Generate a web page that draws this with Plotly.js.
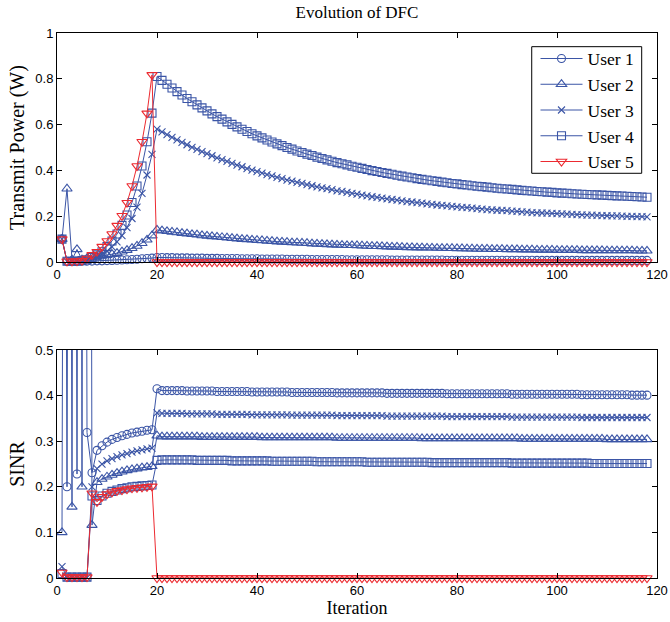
<!DOCTYPE html>
<html>
<head>
<meta charset="utf-8">
<script src="https://cdn.plot.ly/plotly-3.0.1.min.js"></script>
<style>html,body{margin:0;padding:0;background:#fff;}#chart{width:670px;height:622px;}</style>
</head>
<body>
<div id="chart"></div>
<script>
const iterations = Array.from({length: 118}, (_, i) => i + 1);
const userNames = ["User 1", "User 2", "User 3", "User 4", "User 5"];

// Transmit power (W), iterations 1..118
const power1 = [
  0.1, 0.003, 0.004, 0.003, 0.004, 0.004, 0.004, 0.005, 0.005, 0.006,
  0.007, 0.008, 0.009, 0.010, 0.011, 0.012, 0.014, 0.015, 0.017,
  0.020, 0.020, 0.019, 0.019, 0.018, 0.018, 0.018, 0.017, 0.017, 0.017,
  0.016, 0.016, 0.016, 0.015, 0.015, 0.015, 0.015, 0.014, 0.014, 0.014,
  0.014, 0.013, 0.013, 0.013, 0.013, 0.013, 0.012, 0.012, 0.012, 0.012,
  0.012, 0.011, 0.011, 0.011, 0.011, 0.011, 0.011, 0.011, 0.010, 0.010,
  0.010, 0.010, 0.010, 0.010, 0.010, 0.010, 0.010, 0.009, 0.009, 0.009,
  0.009, 0.009, 0.009, 0.009, 0.009, 0.009, 0.009, 0.009, 0.008, 0.008,
  0.008, 0.008, 0.008, 0.008, 0.008, 0.008, 0.008, 0.008, 0.008, 0.008,
  0.008, 0.008, 0.008, 0.008, 0.008, 0.008, 0.007, 0.007, 0.007, 0.007,
  0.007, 0.007, 0.007, 0.007, 0.007, 0.007, 0.007, 0.007, 0.007, 0.007,
  0.007, 0.007, 0.007, 0.007, 0.007, 0.007, 0.007, 0.007, 0.007
];
const power2 = [
  0.1, 0.32, 0.01, 0.055, 0.01, 0.016, 0.02, 0.023, 0.026, 0.03,
  0.034, 0.039, 0.045, 0.052, 0.06, 0.07, 0.082, 0.097, 0.115,
  0.140, 0.137, 0.134, 0.131, 0.129, 0.126, 0.124, 0.121, 0.119, 0.116,
  0.114, 0.112, 0.110, 0.108, 0.106, 0.104, 0.102, 0.100, 0.099, 0.097,
  0.095, 0.094, 0.092, 0.091, 0.089, 0.088, 0.087, 0.085, 0.084, 0.083,
  0.082, 0.080, 0.079, 0.078, 0.077, 0.076, 0.075, 0.074, 0.073, 0.073,
  0.072, 0.071, 0.070, 0.069, 0.069, 0.068, 0.067, 0.066, 0.066, 0.065,
  0.064, 0.064, 0.063, 0.063, 0.062, 0.062, 0.061, 0.061, 0.060, 0.060,
  0.059, 0.059, 0.058, 0.058, 0.057, 0.057, 0.057, 0.056, 0.056, 0.056,
  0.055, 0.055, 0.055, 0.054, 0.054, 0.054, 0.053, 0.053, 0.053, 0.053,
  0.052, 0.052, 0.052, 0.052, 0.052, 0.051, 0.051, 0.051, 0.051, 0.051,
  0.050, 0.050, 0.050, 0.050, 0.050, 0.050, 0.049, 0.049, 0.049
];
const power3 = [
  0.1, 0.003, 0.003, 0.004, 0.005, 0.008, 0.014, 0.023, 0.034, 0.048,
  0.066, 0.088, 0.115, 0.15, 0.19, 0.24, 0.30, 0.38, 0.47,
  0.580, 0.568, 0.556, 0.544, 0.533, 0.522, 0.512, 0.501, 0.492, 0.482,
  0.473, 0.464, 0.455, 0.447, 0.439, 0.431, 0.423, 0.416, 0.408, 0.401,
  0.395, 0.388, 0.382, 0.376, 0.370, 0.364, 0.358, 0.353, 0.348, 0.343,
  0.338, 0.333, 0.328, 0.324, 0.320, 0.316, 0.311, 0.308, 0.304, 0.300,
  0.296, 0.292, 0.289, 0.285, 0.282, 0.279, 0.276, 0.273, 0.270, 0.267,
  0.264, 0.262, 0.259, 0.257, 0.254, 0.252, 0.249, 0.247, 0.245, 0.243,
  0.241, 0.239, 0.237, 0.235, 0.233, 0.231, 0.229, 0.228, 0.226, 0.225,
  0.224, 0.222, 0.221, 0.219, 0.218, 0.216, 0.215, 0.214, 0.213, 0.212,
  0.211, 0.210, 0.209, 0.208, 0.207, 0.206, 0.205, 0.205, 0.204, 0.203,
  0.202, 0.201, 0.201, 0.200, 0.199, 0.199, 0.198, 0.198, 0.197
];
const power4 = [
  0.1, 0.003, 0.003, 0.004, 0.006, 0.01, 0.02, 0.031, 0.045, 0.067,
  0.092, 0.122, 0.16, 0.205, 0.26, 0.332, 0.419, 0.525, 0.65,
  0.810, 0.793, 0.776, 0.760, 0.744, 0.729, 0.714, 0.700, 0.686, 0.673,
  0.660, 0.647, 0.635, 0.624, 0.612, 0.601, 0.590, 0.580, 0.570, 0.560,
  0.551, 0.542, 0.533, 0.524, 0.516, 0.508, 0.500, 0.493, 0.485, 0.478,
  0.471, 0.465, 0.458, 0.452, 0.446, 0.440, 0.434, 0.429, 0.424, 0.418,
  0.414, 0.409, 0.404, 0.399, 0.395, 0.391, 0.387, 0.383, 0.379, 0.375,
  0.371, 0.368, 0.364, 0.361, 0.358, 0.355, 0.352, 0.349, 0.346, 0.343,
  0.341, 0.338, 0.336, 0.333, 0.331, 0.329, 0.327, 0.324, 0.322, 0.320,
  0.319, 0.317, 0.315, 0.313, 0.311, 0.310, 0.308, 0.307, 0.305, 0.304,
  0.302, 0.301, 0.300, 0.298, 0.297, 0.296, 0.295, 0.294, 0.293, 0.292,
  0.291, 0.290, 0.289, 0.288, 0.287, 0.286, 0.285, 0.284, 0.283
];
const power5 = [
  0.1, 0.003, 0.003, 0.004, 0.006, 0.015, 0.031, 0.045, 0.067, 0.092,
  0.122, 0.159, 0.202, 0.259, 0.332, 0.419, 0.525, 0.649, 0.817,
  0, 0, 0, 0, 0, 0, 0, 0, 0, 0,
  0, 0, 0, 0, 0, 0, 0, 0, 0, 0,
  0, 0, 0, 0, 0, 0, 0, 0, 0, 0,
  0, 0, 0, 0, 0, 0, 0, 0, 0, 0,
  0, 0, 0, 0, 0, 0, 0, 0, 0, 0,
  0, 0, 0, 0, 0, 0, 0, 0, 0, 0,
  0, 0, 0, 0, 0, 0, 0, 0, 0, 0,
  0, 0, 0, 0, 0, 0, 0, 0, 0, 0,
  0, 0, 0, 0, 0, 0, 0, 0, 0, 0,
  0, 0, 0, 0, 0, 0, 0, 0, 0
];

// SINR, iterations 1..118
const sinr1 = [
  3.5, 0.2, 4.2, 0.228, 5.0, 0.319, 0.231, 0.28, 0.29, 0.298,
  0.304, 0.308, 0.312, 0.315, 0.318, 0.32, 0.322, 0.324, 0.325,
  0.415, 0.411, 0.411, 0.411, 0.411, 0.411, 0.410, 0.410, 0.410, 0.410,
  0.410, 0.410, 0.409, 0.409, 0.409, 0.409, 0.409, 0.409, 0.409, 0.408,
  0.408, 0.408, 0.408, 0.408, 0.408, 0.408, 0.408, 0.407, 0.407, 0.407,
  0.407, 0.407, 0.407, 0.407, 0.407, 0.407, 0.406, 0.406, 0.406, 0.406,
  0.406, 0.406, 0.406, 0.406, 0.406, 0.406, 0.405, 0.405, 0.405, 0.405,
  0.405, 0.405, 0.405, 0.405, 0.405, 0.405, 0.405, 0.405, 0.404, 0.404,
  0.404, 0.404, 0.404, 0.404, 0.404, 0.404, 0.404, 0.404, 0.404, 0.404,
  0.404, 0.403, 0.403, 0.403, 0.403, 0.403, 0.403, 0.403, 0.403, 0.403,
  0.403, 0.403, 0.403, 0.403, 0.403, 0.402, 0.402, 0.402, 0.402, 0.402,
  0.402, 0.402, 0.402, 0.402, 0.402, 0.401, 0.401, 0.401, 0.401
];
const sinr2 = [
  0.1, 4.5, 0.156, 5.5, 0.2, 6.0, 0.116, 0.21, 0.217, 0.222,
  0.226, 0.23, 0.233, 0.236, 0.238, 0.24, 0.242, 0.243, 0.245,
  0.312, 0.310, 0.310, 0.310, 0.310, 0.310, 0.310, 0.310, 0.310, 0.309,
  0.309, 0.309, 0.309, 0.309, 0.309, 0.309, 0.309, 0.309, 0.309, 0.309,
  0.309, 0.308, 0.308, 0.308, 0.308, 0.308, 0.308, 0.308, 0.308, 0.308,
  0.308, 0.308, 0.308, 0.308, 0.308, 0.308, 0.307, 0.307, 0.307, 0.307,
  0.307, 0.307, 0.307, 0.307, 0.307, 0.307, 0.307, 0.307, 0.307, 0.307,
  0.307, 0.307, 0.307, 0.306, 0.306, 0.306, 0.306, 0.306, 0.306, 0.306,
  0.306, 0.306, 0.306, 0.306, 0.306, 0.306, 0.306, 0.306, 0.306, 0.306,
  0.306, 0.306, 0.306, 0.305, 0.305, 0.305, 0.305, 0.305, 0.305, 0.305,
  0.305, 0.305, 0.305, 0.305, 0.305, 0.305, 0.305, 0.305, 0.305, 0.305,
  0.304, 0.304, 0.304, 0.304, 0.304, 0.304, 0.304, 0.304, 0.304
];
const sinr3 = [
  0.025, 0.001, 0.001, 0.001, 0.001, 0.001, 0.2, 0.24, 0.25, 0.257,
  0.262, 0.266, 0.27, 0.273, 0.276, 0.279, 0.281, 0.283, 0.285,
  0.362, 0.361, 0.361, 0.361, 0.361, 0.361, 0.360, 0.360, 0.360, 0.360,
  0.360, 0.360, 0.359, 0.359, 0.359, 0.359, 0.359, 0.359, 0.359, 0.358,
  0.358, 0.358, 0.358, 0.358, 0.358, 0.358, 0.358, 0.357, 0.357, 0.357,
  0.357, 0.357, 0.357, 0.357, 0.357, 0.357, 0.356, 0.356, 0.356, 0.356,
  0.356, 0.356, 0.356, 0.356, 0.356, 0.356, 0.355, 0.355, 0.355, 0.355,
  0.355, 0.355, 0.355, 0.355, 0.355, 0.355, 0.355, 0.355, 0.354, 0.354,
  0.354, 0.354, 0.354, 0.354, 0.354, 0.354, 0.354, 0.354, 0.354, 0.354,
  0.354, 0.353, 0.353, 0.353, 0.353, 0.353, 0.353, 0.353, 0.353, 0.353,
  0.353, 0.353, 0.353, 0.353, 0.353, 0.352, 0.352, 0.352, 0.352, 0.352,
  0.352, 0.352, 0.352, 0.352, 0.352, 0.352, 0.352, 0.352, 0.352
];
const sinr4 = [
  0.01, 0.002, 0.002, 0.002, 0.002, 0.002, 0.18, 0.17, 0.18, 0.186,
  0.19, 0.193, 0.196, 0.198, 0.2, 0.201, 0.202, 0.203, 0.204,
  0.258, 0.259, 0.259, 0.259, 0.259, 0.259, 0.259, 0.259, 0.258, 0.258,
  0.258, 0.258, 0.258, 0.258, 0.258, 0.257, 0.257, 0.257, 0.257, 0.257,
  0.257, 0.257, 0.257, 0.256, 0.256, 0.256, 0.256, 0.256, 0.256, 0.256,
  0.256, 0.256, 0.255, 0.255, 0.255, 0.255, 0.255, 0.255, 0.255, 0.255,
  0.255, 0.255, 0.254, 0.254, 0.254, 0.254, 0.254, 0.254, 0.254, 0.254,
  0.254, 0.254, 0.254, 0.254, 0.254, 0.253, 0.253, 0.253, 0.253, 0.253,
  0.253, 0.253, 0.253, 0.253, 0.253, 0.253, 0.253, 0.253, 0.253, 0.253,
  0.253, 0.252, 0.252, 0.252, 0.252, 0.252, 0.252, 0.252, 0.252, 0.252,
  0.252, 0.252, 0.252, 0.252, 0.252, 0.252, 0.252, 0.251, 0.251, 0.251,
  0.251, 0.251, 0.251, 0.251, 0.251, 0.251, 0.251, 0.251, 0.251
];
const sinr5 = [
  0.012, 0.002, 0.002, 0.002, 0.002, 0.002, 0.186, 0.167, 0.178, 0.184,
  0.188, 0.191, 0.193, 0.195, 0.197, 0.198, 0.199, 0.2, 0.201,
  0, 0, 0, 0, 0, 0, 0, 0, 0, 0,
  0, 0, 0, 0, 0, 0, 0, 0, 0, 0,
  0, 0, 0, 0, 0, 0, 0, 0, 0, 0,
  0, 0, 0, 0, 0, 0, 0, 0, 0, 0,
  0, 0, 0, 0, 0, 0, 0, 0, 0, 0,
  0, 0, 0, 0, 0, 0, 0, 0, 0, 0,
  0, 0, 0, 0, 0, 0, 0, 0, 0, 0,
  0, 0, 0, 0, 0, 0, 0, 0, 0, 0,
  0, 0, 0, 0, 0, 0, 0, 0, 0, 0,
  0, 0, 0, 0, 0, 0, 0, 0, 0
];

const powerSeries = [power1, power2, power3, power4, power5];
const sinrSeries = [sinr1, sinr2, sinr3, sinr4, sinr5];

const BLUE = '#3b55a6';
const RED = '#ec2a30';
const colors = [BLUE, BLUE, BLUE, BLUE, RED];
const symbols = ['circle-open', 'triangle-up-open', 'x-thin-open', 'square-open', 'triangle-down-open'];
const sizes = [8, 9, 7, 8, 9];

const traces = [];
for (let i = 0; i < 5; i++) {
  traces.push({
    x: iterations, y: powerSeries[i], xaxis: 'x', yaxis: 'y',
    type: 'scatter', mode: 'lines+markers', name: userNames[i],
    line: {color: colors[i], width: 1},
    marker: {symbol: symbols[i], size: sizes[i], color: colors[i], line: {color: colors[i], width: 1.1}},
    cliponaxis: false, showlegend: true
  });
}
for (let i = 0; i < 5; i++) {
  traces.push({
    x: iterations, y: sinrSeries[i], xaxis: 'x2', yaxis: 'y2',
    type: 'scatter', mode: 'lines+markers', name: userNames[i],
    line: {color: colors[i], width: 1},
    marker: {symbol: symbols[i], size: sizes[i], color: colors[i], line: {color: colors[i], width: 1.1}},
    cliponaxis: false, showlegend: false
  });
}

const tickFont = {family: 'Liberation Sans, Arial, sans-serif', size: 13, color: '#000'};
const serif = 'Liberation Serif, Times New Roman, serif';
const axisCommon = {
  showline: true, linecolor: '#000', linewidth: 1, mirror: 'ticks',
  ticks: 'inside', ticklen: 5, tickcolor: '#000', tickwidth: 1,
  showgrid: false, zeroline: false, tickfont: tickFont, fixedrange: true
};

const layout = {
  width: 670, height: 622,
  margin: {l: 57, r: 13, t: 33, b: 44},
  paper_bgcolor: '#fff', plot_bgcolor: '#fff',
  title: {text: 'Evolution of DFC', font: {family: serif, size: 17, color: '#000'},
          x: 0.5, xref: 'paper', y: 0.981, yref: 'container', yanchor: 'middle'},
  xaxis: Object.assign({}, axisCommon, {domain: [0, 1], range: [0, 120], dtick: 20, tick0: 0, anchor: 'y'}),
  yaxis: Object.assign({}, axisCommon, {domain: [0.5798, 1], range: [0, 1], dtick: 0.2, tick0: 0, anchor: 'x',
    title: {text: 'Transmit Power (W)', font: {family: serif, size: 20, color: '#000'}, standoff: 5}}),
  xaxis2: Object.assign({}, axisCommon, {domain: [0, 1], range: [0, 120], dtick: 20, tick0: 0, anchor: 'y2',
    title: {text: 'Iteration', font: {family: serif, size: 18, color: '#000'}, standoff: 0}}),
  yaxis2: Object.assign({}, axisCommon, {domain: [0, 0.4183], range: [0, 0.5], dtick: 0.1, tick0: 0, anchor: 'x2',
    title: {text: 'SINR', font: {family: serif, size: 20, color: '#000'}, standoff: 5}}),
  shapes: [{type: 'rect', xref: 'paper', yref: 'paper', x0: 0.7912, x1: 0.9745, y0: 0.7426, y1: 0.9749,
    fillcolor: '#fff', line: {color: '#000', width: 1}, layer: 'above'}],
  legend: {x: 0.7975, y: 0.986, xanchor: 'left', yanchor: 'top', xref: 'paper', yref: 'paper',
    bgcolor: 'rgba(0,0,0,0)', borderwidth: 0, itemwidth: 42,
    font: {family: serif, size: 17.5, color: '#000'}, tracegroupgap: 0},
  showlegend: true
};

Plotly.newPlot('chart', traces, layout, {displayModeBar: false, staticPlot: true});
</script>
</body>
</html>
